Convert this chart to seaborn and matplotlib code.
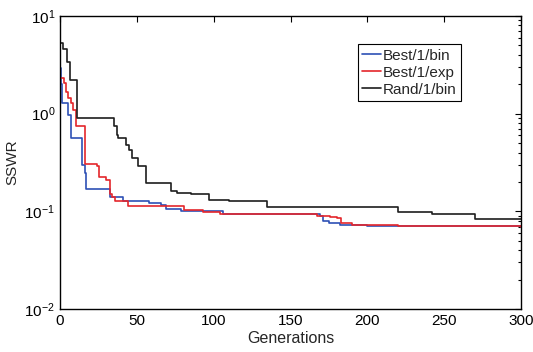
import numpy as np
import pandas as pd
import matplotlib
matplotlib.use("Agg")
import matplotlib.pyplot as plt
import seaborn as sns
from matplotlib.ticker import LogLocator

sns.set_style("white")
plt.rcParams['font.family'] = ['Liberation Sans', 'DejaVu Sans']
plt.rcParams['mathtext.fontset'] = 'custom'
plt.rcParams['mathtext.rm'] = 'Liberation Sans'

series_names = ["Best/1/bin", "Best/1/exp", "Rand/1/bin"]

best_bin_gen = [0, 0.5, 1.5, 5.5, 7, 14, 16, 17, 32.5, 41, 58, 66, 69, 79, 106, 169, 171, 175, 182, 200, 300]
best_bin_val = [2.95, 2.0, 1.29, 0.97, 0.56, 0.30, 0.25, 0.17, 0.14, 0.127, 0.122, 0.117, 0.105, 0.10, 0.093, 0.090, 0.079, 0.076, 0.0723, 0.0705, 0.0697]

best_exp_gen = [0, 2.5, 3.7, 5.4, 7, 8.7, 10.4, 16, 24, 25.6, 30, 32.5, 34, 36, 44.5, 81, 93, 104, 167, 176, 180, 183, 190, 220, 300]
best_exp_val = [2.34, 2.05, 1.68, 1.45, 1.28, 1.09, 0.75, 0.305, 0.29, 0.226, 0.21, 0.15, 0.14, 0.129, 0.113, 0.104, 0.098, 0.093, 0.090, 0.088, 0.086, 0.076, 0.0723, 0.0705, 0.0697]

rand_bin_gen = [0, 2, 4.5, 6.5, 11, 33, 35, 37, 38, 43, 45, 47, 51, 56, 72, 76, 85, 97, 110, 135, 220, 242, 270, 300]
rand_bin_val = [5.3, 4.6, 3.4, 2.2, 0.9, 0.9, 0.75, 0.6, 0.56, 0.48, 0.42, 0.35, 0.29, 0.195, 0.162, 0.155, 0.151, 0.131, 0.128, 0.110, 0.098, 0.0944, 0.083, 0.083]

frames = []
for name, g, v in zip(series_names,
                      [best_bin_gen, best_exp_gen, rand_bin_gen],
                      [best_bin_val, best_exp_val, rand_bin_val]):
    frames.append(pd.DataFrame({"Generations": g, "SSWR": v, "Method": name}))
df = pd.concat(frames, ignore_index=True)

palette = {"Best/1/bin": "#2d50b5", "Best/1/exp": "#e4262b", "Rand/1/bin": "#1e1e1e"}

fig = plt.figure(figsize=(5.33, 3.52), dpi=100)
ax = fig.add_axes([0.1126, 0.122, 0.8649, 0.8325])

sns.lineplot(data=df, x="Generations", y="SSWR", hue="Method", palette=palette,
             hue_order=series_names, estimator=None, sort=False,
             drawstyle="steps-post", linewidth=1.2, ax=ax)

ax.set_yscale("log")
ax.set_ylim(1e-2, 1e1)
ax.set_xlim(0, 300)
ax.set_xticks([0, 50, 100, 150, 200, 250, 300])
ax.yaxis.set_major_locator(LogLocator(base=10, numticks=10))
ax.yaxis.set_minor_locator(LogLocator(base=10, subs=np.arange(2, 10), numticks=10))
ax.tick_params(axis="both", which="both", direction="in", top=True, right=True,
               labelsize=11, colors="black", width=0.8)
ax.tick_params(axis="both", which="major", length=4)
ax.tick_params(axis="y", which="minor", length=2)
ax.tick_params(axis="x", which="minor", bottom=False, top=False)
for s in ax.spines.values():
    s.set_color("black")
    s.set_linewidth(1.0)
    s.set_visible(True)
ax.set_xlabel("Generations", fontsize=11.5, labelpad=2)
ax.set_ylabel("SSWR", fontsize=11, labelpad=4)

leg = ax.legend(loc="upper right", bbox_to_anchor=(0.869, 0.904), fontsize=11,
                handlelength=1.2, handletextpad=0.1, borderpad=0.3, labelspacing=0.2,
                borderaxespad=0, fancybox=False, framealpha=1)
leg.get_frame().set_edgecolor("black")
leg.get_frame().set_linewidth(0.8)

fig.savefig("out.png", dpi=100)
